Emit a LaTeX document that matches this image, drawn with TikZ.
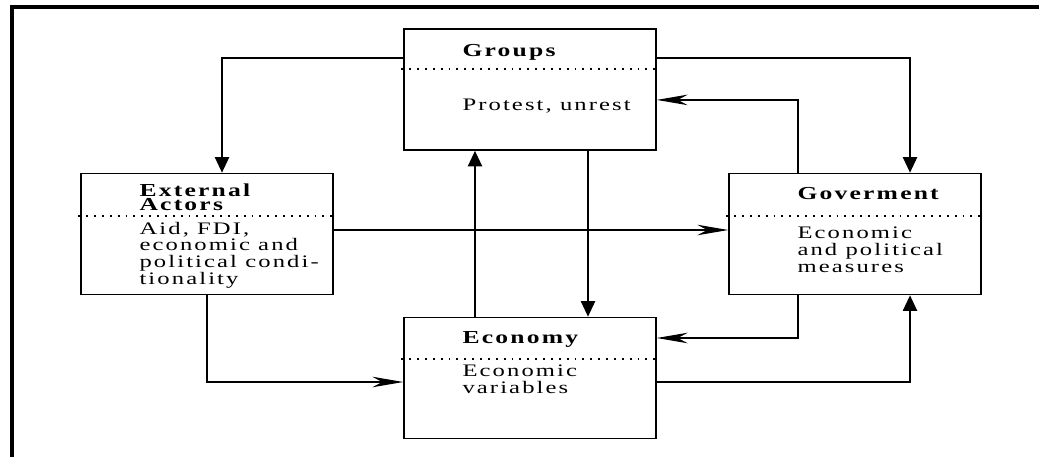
\documentclass[tikz,border=0pt]{standalone}
\usepackage{fontspec}
\setmainfont{Liberation Serif}[FakeStretch=1.4,LetterSpace=12]
\usetikzlibrary{arrows.meta}
\tikzstyle{block}=[draw, line width=1pt, minimum width=6.3cm, minimum height=3.03cm, inner sep=0]
\tikzstyle{title}=[anchor=base west, inner sep=0, align=left, font=\bfseries\fontsize{13}{10}\selectfont]
\tikzstyle{body}=[anchor=base west, inner sep=0, align=left, font=\fontsize{12.5}{12}\selectfont]
\tikzstyle{divider}=[line width=1.4pt, dash pattern=on 1.4pt off 4.2pt]
\tikzstyle{push}=[line width=1.3pt, -{Triangle[length=11pt, width=10pt]}]
\tikzstyle{feed}=[line width=0.9pt, -{Stealth[length=22pt, width=7.5pt, inset=7pt]}]

\begin{document}
\begin{tikzpicture}[x=0.025cm, y=-0.025cm]
    \useasboundingbox (0,0) rectangle (1039,456);
    \clip (0,0) rectangle (1039,456);
    \draw[line width=2.2pt] (12,470) -- (12,7) -- (1050,7);

    \node[block] (grp) at (530,89.5) {};
    \node[block] (ext) at (207,234) {};
    \node[block] (gov) at (855,234) {};
    \node[block] (eco) at (530,378) {};

    % headings and contents (anchored on the last line)
    \node[title] (grp_t) at ([shift={(59,28)}]grp.north west) {Groups};
    \node[body] (grp_b) at ([shift={(59,82)}]grp.north west) {Protest, unrest};
    \node[title] (ext_t) at ([shift={(59,38)}]ext.north west) {External\\Actors};
    \node[body] (ext_b) at ([shift={(59,112)}]ext.north west) {Aid, FDI,\\economic and\\political condi-\\tionality};
    \node[title] (gov_t) at ([shift={(69,27)}]gov.north west) {Goverment};
    \node[body] (gov_b) at ([shift={(69,100)}]gov.north west) {Economic\\and political\\measures};
    \node[title] (eco_t) at ([shift={(59,27)}]eco.north west) {Economy};
    \node[body] (eco_b) at ([shift={(59,77)}]eco.north west) {Economic\\variables};

    \draw[divider] ([shift={(-2,41)}]grp.north west) -- ([shift={(0,41)}]grp.north east);
    \draw[divider] ([shift={(-2,43)}]ext.north west) -- ([shift={(0,43)}]ext.north east);
    \draw[divider] ([shift={(-2,43)}]gov.north west) -- ([shift={(0,43)}]gov.north east);
    \draw[divider] ([shift={(-2,42)}]eco.north west) -- ([shift={(0,42)}]eco.north east);

    \draw[push] ([yshift=0.79cm]grp.west) -| ([xshift=0.375cm]ext.north);
    \draw[push] ([yshift=0.79cm]grp.east) -| ([xshift=1.375cm]gov.north);
    \draw[push] ([xshift=-1.375cm]eco.north) -- ([xshift=-1.375cm]grp.south);
    \draw[push] ([xshift=1.45cm]grp.south) -- ([xshift=1.45cm]eco.north);
    \draw[push] ([yshift=-0.1cm]eco.east) -| ([xshift=1.375cm]gov.south);

    \draw[feed] ([yshift=0.1cm]ext.east) -- ([yshift=0.1cm]gov.west);
    \draw[feed] (ext.south) |- ([yshift=-0.1cm]eco.west);
    \draw[feed] ([xshift=-1.425cm]gov.north) |- ([yshift=-0.26cm]grp.east);
    \draw[feed] ([xshift=-1.425cm]gov.south) |- ([yshift=1cm]eco.east);
\end{tikzpicture}
\end{document}
